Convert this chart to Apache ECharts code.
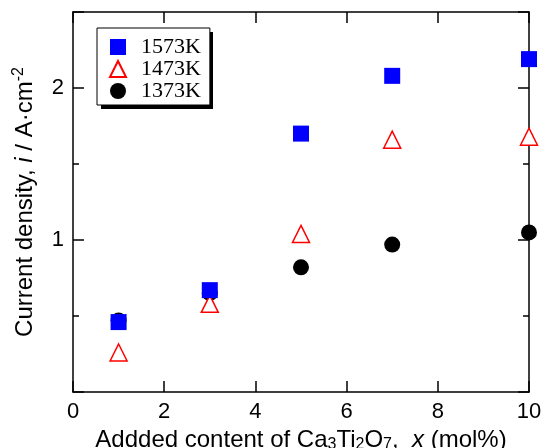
<!DOCTYPE html>
<html>
<head>
<meta charset="utf-8">
<script src="https://cdn.jsdelivr.net/npm/echarts@6/dist/echarts.min.js"></script>
<style>
html, body { margin: 0; padding: 0; background: #fff; }
#chart { width: 544px; height: 448px; }
</style>
</head>
<body>
<div id="chart"></div>
<script>
// added content x (mol%)
var contentX = [1, 3, 5, 7, 10];
// current density, A/cm2
var i1573 = [0.46, 0.67, 1.70, 2.08, 2.19];
var i1473 = [0.26, 0.58, 1.04, 1.66, 1.68];
var i1373 = [0.47, 0.65, 0.82, 0.97, 1.05];
var seriesNames = ['1573K', '1473K', '1373K'];

function pairs(ys) {
    return contentX.map(function (x, k) { return [x, ys[k]]; });
}

var chart = echarts.init(document.getElementById('chart'));
var sans = 'Liberation Sans';

var tickLbl = { color: '#000', fontFamily: sans, fontSize: 22, margin: 9 };
var axLine = { onZero: false, lineStyle: { color: '#000', width: 1.5 } };
var axTick = { inside: true, length: 11, lineStyle: { color: '#000', width: 1.5 } };
var minTick = { show: true, splitNumber: 2, length: 6, lineStyle: { color: '#000', width: 1.5 } };

var option = {
    animation: false,
    backgroundColor: '#fff',
    grid: { left: 73, right: 15, top: 12, bottom: 56, outerBoundsMode: 'none', containLabel: false },
    // legend drop shadow
    graphic: [{
        type: 'rect', z: 100, zlevel: 0,
        shape: { x: 101, y: 32, width: 112, height: 77 },
        style: { fill: '#000' },
        silent: true
    }],
    legend: {
        left: 97, top: 28, z: 200,
        orient: 'vertical',
        data: seriesNames,
        itemWidth: 16, itemHeight: 16,
        itemGap: 0,
        padding: [8, 9, 3, 12],
        backgroundColor: '#fff',
        borderColor: '#000', borderWidth: 1,
        textStyle: { fontFamily: 'Liberation Serif', fontSize: 22, color: '#000', padding: [0, 0, 0, 10] }
    },
    xAxis: [{
        type: 'value', min: 0, max: 10, interval: 2,
        axisLine: axLine, axisTick: axTick, axisLabel: tickLbl,
        splitLine: { show: false },
        name: '{n|Addded content of Ca}{s|3}{n|Ti}{s|2}{n|O}{s|7}{n|,  }{i|x}{n| (mol%)}',
        nameLocation: 'middle', nameGap: 32,
        nameTextStyle: {
            rich: {
                n: { fontFamily: sans, fontSize: 24, color: '#000' },
                i: { fontFamily: sans, fontSize: 24, fontStyle: 'italic', color: '#000' },
                s: { fontFamily: sans, fontSize: 16, color: '#000', verticalAlign: 'bottom', padding: [10, 0, 0, 0] }
            }
        }
    }, {
        type: 'value', min: 0, max: 10, interval: 2, position: 'top',
        axisLine: axLine, axisTick: axTick, axisLabel: { show: false },
        splitLine: { show: false }
    }],
    yAxis: [{
        type: 'value', min: 0, max: 2.5, interval: 1,
        axisLine: axLine, axisTick: axTick, minorTick: minTick,
        axisLabel: Object.assign({}, tickLbl, {
            formatter: function (v) { return v === 0 || v === 2.5 ? '' : String(v); }
        }),
        splitLine: { show: false },
        name: '{n|Current density, }{i|i}{n| / A·cm}{p|-2}',
        nameLocation: 'middle', nameGap: 34,
        nameTextStyle: {
            rich: {
                n: { fontFamily: sans, fontSize: 24, color: '#000' },
                i: { fontFamily: sans, fontSize: 24, fontStyle: 'italic', color: '#000' },
                p: { fontFamily: sans, fontSize: 16, color: '#000', verticalAlign: 'top', padding: [0, 0, 12, 0] }
            }
        }
    }, {
        type: 'value', min: 0, max: 2.5, interval: 1, position: 'right',
        axisLine: axLine, axisTick: axTick, minorTick: minTick,
        axisLabel: { show: false },
        splitLine: { show: false }
    }],
    series: [{
        name: '1373K', type: 'scatter', data: pairs(i1373),
        symbol: 'circle', symbolSize: 16,
        itemStyle: { color: '#000', opacity: 1 }, z: 2
    }, {
        name: '1473K', type: 'scatter', data: pairs(i1473),
        symbol: 'triangle', symbolSize: 17,
        itemStyle: { color: '#fff', borderColor: '#f00', borderWidth: 1.5, opacity: 1 }, z: 3
    }, {
        name: '1573K', type: 'scatter', data: pairs(i1573),
        symbol: 'rect', symbolSize: 16,
        itemStyle: { color: '#0000ff', opacity: 1 }, z: 4
    }]
};

chart.setOption(option);
</script>
</body>
</html>
